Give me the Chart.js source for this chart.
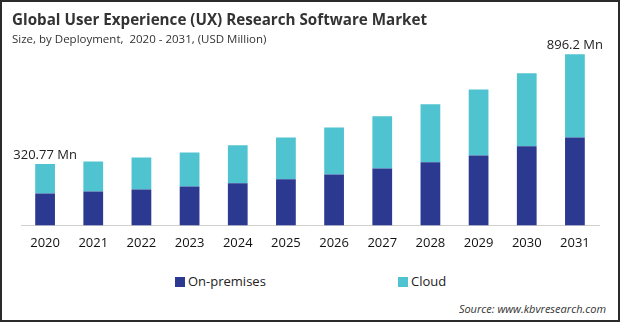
<!DOCTYPE html>
<html>
<head>
<meta charset="utf-8">
<script src="https://cdn.jsdelivr.net/npm/chart.js@4"></script>
<style>
  body { margin: 0; background: #fff; }
  #box {
    position: relative; width: 620px; height: 322px; box-sizing: border-box;
    border: 2px solid #2b2b2b; overflow: hidden; font-family: "Open Sans", sans-serif;
  }
  #title { position: absolute; left: 10px; top: 7px; font-size: 15.2px; font-weight: bold; color: #333; white-space: nowrap; }
  #sub { position: absolute; left: 10px; top: 29px; font-size: 11.5px; color: #333; white-space: nowrap; }
  #chartWrap { position: absolute; left: -2px; top: -2px; width: 620px; height: 262px; }
  .leg { position: absolute; top: 270px; font-size: 13px; color: #222; white-space: nowrap; }
  .leg span { display: inline-block; width: 10px; height: 10px; margin-right: 3px; vertical-align: -1px; }
  #source { position: absolute; right: 12px; top: 299px; font-size: 11px; font-style: italic; color: #333; }
</style>
</head>
<body>
<div id="box">
  <div id="chartWrap"><canvas id="myChart"></canvas></div>
  <div id="title">Global User Experience (UX) Research Software Market</div>
  <div id="sub">Size, by Deployment,&nbsp; 2020 - 2031, (USD Million)</div>
  <div class="leg" style="left:173px"><span style="background:#2b3990"></span>On-premises</div>
  <div class="leg" style="left:396px"><span style="background:#4fc3cf"></span>Cloud</div>
  <div id="source">Source: www.kbvresearch.com</div>
</div>
<script>
const years = ["2020", "2021", "2022", "2023", "2024", "2025", "2026", "2027", "2028", "2029", "2030", "2031"];
const onPremises = [167, 178, 188, 204, 220, 241, 267, 298, 330, 366, 414, 460];
const cloud = [153.77, 157, 168, 178, 199, 219, 246, 273, 304, 346, 382, 436.2];
const endLabels = { 0: "320.77 Mn", 11: "896.2 Mn" };

// texte au-dessus des barres 2020 et 2031
const topLabels = {
  id: "topLabels",
  afterDatasetsDraw(chart) {
    const ctx = chart.ctx;
    const meta = chart.getDatasetMeta(1);
    ctx.save();
    ctx.font = "13px 'Open Sans', sans-serif";
    ctx.fillStyle = "#222";
    ctx.textAlign = "center";
    ctx.textBaseline = "bottom";
    for (const i in endLabels) {
      const bar = meta.data[i];
      ctx.fillText(endLabels[i], bar.x, bar.y - 2);
    }
    ctx.restore();
  }
};

const data = {
  labels: years,
  datasets: [
    { label: "On-premises", data: onPremises, backgroundColor: "#2b3990" },
    { label: "Cloud", data: cloud, backgroundColor: "#4fc3cf" }
  ]
};

const config = {
  type: "bar",
  data: data,
  options: {
    responsive: true,
    maintainAspectRatio: false,
    animation: false,
    layout: { padding: { left: 21, right: 21, top: 42, bottom: 1 } },
    datasets: { bar: { barPercentage: 0.41, categoryPercentage: 1 } },
    plugins: { legend: { display: false }, tooltip: { enabled: false } },
    scales: {
      x: {
        stacked: true,
        grid: { display: false, drawTicks: false },
        border: { display: true, color: "#d0d0d0", width: 1 },
        ticks: { padding: 10, color: "#111", font: { size: 13, family: "'Open Sans', sans-serif" } }
      },
      y: { stacked: true, display: false, min: 0, max: 960 }
    }
  },
  plugins: [topLabels]
};

const context = document.getElementById("myChart").getContext("2d");
const chart = new Chart(context, config);
</script>
</body>
</html>
